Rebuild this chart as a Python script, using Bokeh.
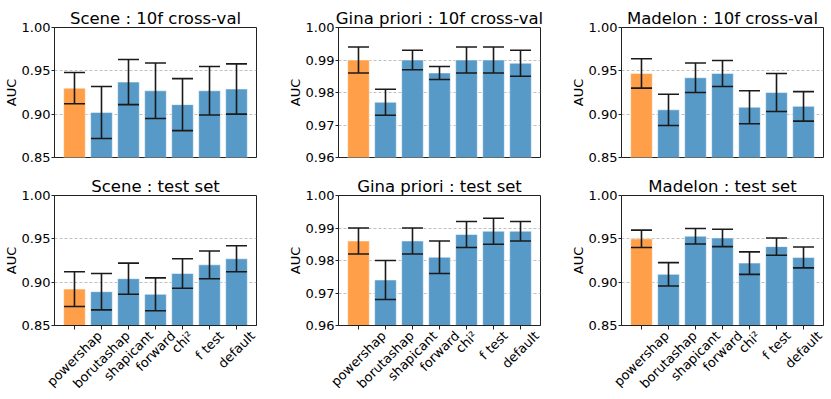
import math
from bokeh.plotting import figure
from bokeh.layouts import column, row
from bokeh.models import (ColumnDataSource, FixedTicker, Range1d, Whisker, TeeHead,
                          NumeralTickFormatter, LinearAxis)
from bokeh.embed import file_html
from bokeh.resources import INLINE

methods = ["powershap", "borutashap", "shapicant", "forward", "chi\u00b2", "f test", "default"]

scene_cv = [0.930, 0.902, 0.937, 0.927, 0.911, 0.927, 0.929]
scene_cv_err = [0.018, 0.030, 0.026, 0.032, 0.030, 0.028, 0.029]
gina_cv = [0.990, 0.977, 0.990, 0.986, 0.990, 0.990, 0.989]
gina_cv_err = [0.004, 0.004, 0.003, 0.002, 0.004, 0.004, 0.004]
madelon_cv = [0.947, 0.905, 0.942, 0.947, 0.908, 0.925, 0.909]
madelon_cv_err = [0.017, 0.018, 0.017, 0.015, 0.019, 0.022, 0.017]

scene_test = [0.892, 0.889, 0.904, 0.886, 0.910, 0.920, 0.927]
scene_test_err = [0.020, 0.021, 0.018, 0.019, 0.017, 0.016, 0.015]
gina_test = [0.986, 0.974, 0.986, 0.981, 0.988, 0.989, 0.989]
gina_test_err = [0.004, 0.006, 0.004, 0.005, 0.004, 0.004, 0.003]
madelon_test = [0.950, 0.909, 0.953, 0.951, 0.922, 0.941, 0.9285]
madelon_test_err = [0.010, 0.0135, 0.009, 0.010, 0.013, 0.010, 0.012]

titles_top = ["Scene : 10f cross-val", "Gina priori : 10f cross-val", "Madelon : 10f cross-val"]
titles_bot = ["Scene : test set", "Gina priori : test set", "Madelon : test set"]

ticks_a = [0.85, 0.90, 0.95, 1.00]
ticks_g = [0.96, 0.97, 0.98, 0.99, 1.00]

ORANGE = "#ff9f4a"
BLUE = "#5799c7"
FONT = "DejaVu Sans"

FW, FH = 202, 130
XR = (-0.74, 6.74)
BORDER_L = 51
right_borders = [28, 27, 6]
TOP_BT, TOP_BB = 27, 11
BOT_BT, BOT_BB = 27, 66

# approximate DejaVu Sans advance widths (em), used to centre rotated labels under ticks
ADV = {"p": .635, "o": .612, "w": .818, "e": .615, "r": .411, "s": .521, "h": .634,
       "a": .613, "b": .635, "u": .634, "t": .392, "i": .278, "c": .550, "n": .634,
       "f": .352, "d": .635, "l": .278, " ": .318, "\u00b2": .401}
LBL_PX = 13


def text_len(s):
    return sum(ADV.get(ch, .6) for ch in s) * LBL_PX


def make(title, vals, errs, yr, yticks, col, bottom):
    bt, bb = (BOT_BT, BOT_BB) if bottom else (TOP_BT, TOP_BB)
    p = figure(frame_width=FW, frame_height=FH, output_backend="svg", toolbar_location=None,
               x_range=Range1d(*XR), y_range=Range1d(*yr),
               min_border_left=BORDER_L, min_border_right=right_borders[col],
               min_border_top=bt, min_border_bottom=bb)
    p.title.text = title
    p.title.align = "center"
    p.title.text_font = FONT
    p.title.text_font_size = "16.5px"
    p.title.text_font_style = "normal"
    p.title.text_color = "black"
    p.title.standoff = 0
    p.title.offset = 0

    xs = list(range(len(methods)))
    colors = [ORANGE] + [BLUE] * (len(methods) - 1)
    src = ColumnDataSource(dict(x=xs, top=vals,
                                upper=[v + e for v, e in zip(vals, errs)],
                                lower=[v - e for v, e in zip(vals, errs)],
                                color=colors))
    p.vbar(x="x", top="top", bottom=yr[0] - 1, width=0.8, fill_color="color",
           line_color="white", line_alpha=0.5, line_width=1, source=src)
    wh = Whisker(base="x", upper="upper", lower="lower", source=src, level="overlay",
                 line_color="#1a1a1a", line_width=1.6,
                 upper_head=TeeHead(size=21, line_color="#1a1a1a", line_width=1.6),
                 lower_head=TeeHead(size=21, line_color="#1a1a1a", line_width=1.6))
    p.add_layout(wh)

    p.xgrid.visible = False
    p.ygrid.ticker = FixedTicker(ticks=yticks)
    p.ygrid.grid_line_color = "#b0b0b0"
    p.ygrid.grid_line_dash = "3 2"
    p.ygrid.grid_line_width = 0.8

    p.outline_line_color = "#222222"
    p.outline_line_width = 1

    ya = p.yaxis[0]
    ya.ticker = FixedTicker(ticks=yticks)
    ya.formatter = NumeralTickFormatter(format="0.00")
    ya.minor_tick_line_color = None
    ya.major_tick_out = 3
    ya.major_tick_in = 0
    ya.major_label_standoff = 1
    ya.major_label_text_font = FONT
    ya.major_label_text_font_size = "13px"
    ya.major_label_text_color = "black"
    ya.axis_line_color = "#222222"
    ya.major_tick_line_color = "#222222"
    ya.axis_label = "AUC"
    ya.axis_label_text_font = FONT
    ya.axis_label_text_font_size = "13px"
    ya.axis_label_text_font_style = "normal"
    ya.axis_label_text_color = "black"
    ya.axis_label_standoff = 0

    xa = p.xaxis[0]
    if bottom:
        # tick marks only
        xa.ticker = FixedTicker(ticks=xs)
        xa.minor_tick_line_color = None
        xa.axis_line_color = "#222222"
        xa.major_label_overrides = {i: "" for i in xs}
        xa.major_label_text_font_size = "1px"
        xa.major_label_standoff = 0
        xa.major_tick_out = 4
        xa.major_tick_in = 0
        xa.major_tick_line_color = "#222222"
        # rotated labels: shift each anchor so the label's bounding box is centred on its tick
        k = FW / (XR[1] - XR[0])
        pos = [round(i + text_len(m) / (2 * math.sqrt(2)) / k, 4) for i, m in enumerate(methods)]
        la = LinearAxis(ticker=FixedTicker(ticks=pos),
                        major_label_overrides={x: m for x, m in zip(pos, methods)},
                        major_label_orientation=math.pi / 4,
                        major_label_text_font=FONT, major_label_text_font_size=f"{LBL_PX}px",
                        major_label_text_color="black", major_label_standoff=4,
                        major_tick_line_color=None, minor_tick_line_color=None,
                        axis_line_color=None, major_tick_out=0, major_tick_in=0)
        p.add_layout(la, "below")
    else:
        xa.visible = False
    return p


rng_a = (0.85, 1.00)
rng_g = (0.96, 1.00)

top = row(
    make(titles_top[0], scene_cv, scene_cv_err, rng_a, ticks_a, 0, False),
    make(titles_top[1], gina_cv, gina_cv_err, rng_g, ticks_g, 1, False),
    make(titles_top[2], madelon_cv, madelon_cv_err, rng_a, ticks_a, 2, False),
)
bot = row(
    make(titles_bot[0], scene_test, scene_test_err, rng_a, ticks_a, 0, True),
    make(titles_bot[1], gina_test, gina_test_err, rng_g, ticks_g, 1, True),
    make(titles_bot[2], madelon_test, madelon_test_err, rng_a, ticks_a, 2, True),
)
p = column(top, bot)

open("out.html", "w").write(file_html(p, INLINE))
